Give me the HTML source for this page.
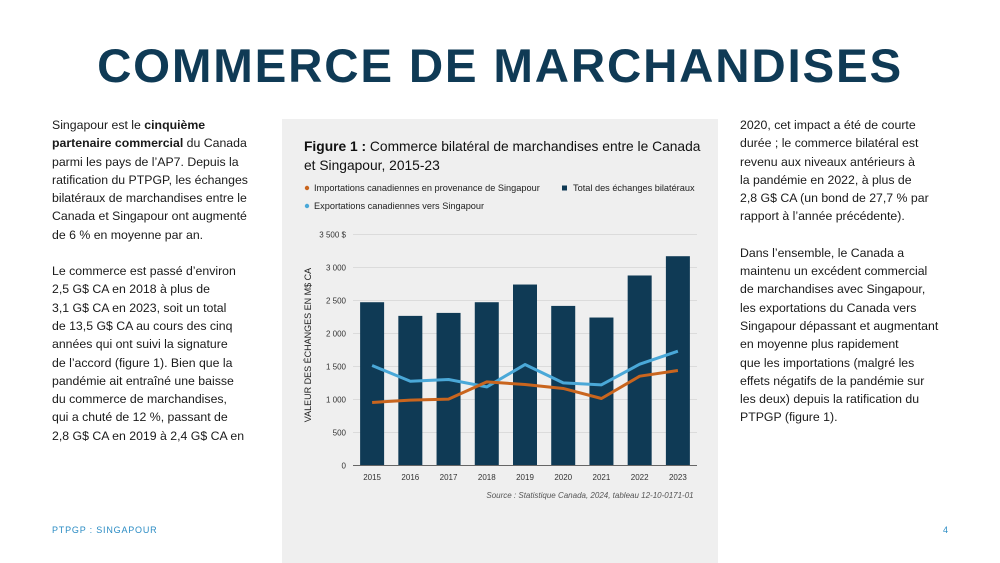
<!DOCTYPE html>
<html><head><meta charset="utf-8"><style>
body{margin:0;width:1000px;height:563px;background:#fff;font-family:"Liberation Sans",sans-serif;position:relative;overflow:hidden;color:#1a1a1a}
.t{position:absolute;left:0;width:1000px;top:39px;text-align:center;font-weight:bold;font-size:47.5px;letter-spacing:1.8px;color:#0f3a55}
.col{position:absolute;font-size:12.3px;line-height:18.3px}
.col p{margin:0 0 18px 0}
.foot{position:absolute;top:525px;font-size:9px;color:#2b8cc4;letter-spacing:0.8px}
.panel{position:absolute;left:282px;top:119px;width:436px;height:444px;background:#efefef}
</style></head><body>
<div class="t">COMMERCE DE MARCHANDISES</div>
<div class="col" style="left:52px;top:116px;width:230px">
<p>Singapour est le <b>cinquième<br>partenaire commercial</b> du Canada<br>parmi les pays de l’AP7. Depuis la<br>ratification du PTPGP, les échanges<br>bilatéraux de marchandises entre le<br>Canada et Singapour ont augmenté<br>de 6 % en moyenne par an.</p>
<p>Le commerce est passé d’environ<br>2,5 G$ CA en 2018 à plus de<br>3,1 G$ CA en 2023, soit un total<br>de 13,5 G$ CA au cours des cinq<br>années qui ont suivi la signature<br>de l’accord (figure 1). Bien que la<br>pandémie ait entraîné une baisse<br>du commerce de marchandises,<br>qui a chuté de 12 %, passant de<br>2,8 G$ CA en 2019 à 2,4 G$ CA en</p>
</div>
<div class="col" style="left:740px;top:116px;width:240px">
<p>2020, cet impact a été de courte<br>durée ; le commerce bilatéral est<br>revenu aux niveaux antérieurs à<br>la pandémie en 2022, à plus de<br>2,8 G$ CA (un bond de 27,7 % par<br>rapport à l’année précédente).</p>
<p>Dans l’ensemble, le Canada a<br>maintenu un excédent commercial<br>de marchandises avec Singapour,<br>les exportations du Canada vers<br>Singapour dépassant et augmentant<br>en moyenne plus rapidement<br>que les importations (malgré les<br>effets négatifs de la pandémie sur<br>les deux) depuis la ratification du<br>PTPGP (figure 1).</p>
</div>
<div class="foot" style="left:52px">PTPGP : SINGAPOUR</div>
<div class="foot" style="left:943px">4</div>
<div class="panel"></div>
<svg id="c" width="1000" height="563" style="position:absolute;left:0;top:0" font-family="Liberation Sans, sans-serif">
<text x="304" y="151" font-size="13.8" fill="#111"><tspan font-weight="bold">Figure 1 :</tspan> Commerce bilatéral de marchandises entre le Canada</text>
<text x="304" y="170" font-size="13.8" fill="#111">et Singapour, 2015-23</text>
<g font-size="9.2" fill="#222">
<circle cx="307" cy="188" r="2.2" fill="#c9651e"/><text x="314" y="191">Importations canadiennes en provenance de Singapour</text>
<rect x="562" y="185.5" width="5" height="5" fill="#0f3a55"/><text x="573" y="191">Total des échanges bilatéraux</text>
<circle cx="307" cy="206" r="2.2" fill="#4aa8d8"/><text x="314" y="209">Exportations canadiennes vers Singapour</text>
</g>
<text transform="translate(311,345) rotate(-90)" text-anchor="middle" font-size="9" fill="#222">VALEUR DES ÉCHANGES EN M$ CA</text>
<text x="590" y="498" font-size="8" font-style="italic" fill="#555" text-anchor="middle">Source : Statistique Canada, 2024, tableau 12-10-0171-01</text>
<g id="plot"></g>
</svg>
<script>
const years=["2015","2016","2017","2018","2019","2020","2021","2022","2023"];
const totals=[2474,2267,2312,2474,2742,2418,2242,2879,3171];
const exportsCA=[1515,1277,1303,1191,1530,1252,1222,1535,1732];
const importsCA=[955,990,1005,1267,1227,1167,1015,1353,1439];
const yTicks=[0,500,1000,1500,2000,2500,3000,3500];
const yTickLabels=["0","500","1 000","1 500","2 000","2 500","3 000","3 500 $"];
const NS="http://www.w3.org/2000/svg",g=document.getElementById('plot');
const x0=353,x1=697,y0=465.5,y1=234.5,yMax=3500;
const step=(x1-x0)/years.length;
const xs=i=>x0+step*(i+0.5), ys=v=>y0-(v/yMax)*(y0-y1);
function el(t,a){const e=document.createElementNS(NS,t);for(const k in a)e.setAttribute(k,a[k]);g.appendChild(e);return e;}
yTicks.forEach((v,i)=>{
 const l=el('line',{x1:x0,x2:x1,y1:ys(v),y2:ys(v),stroke:'#d4d4d4','stroke-width':0.8});
 
 
 const t=el('text',{x:346,y:ys(v)+3,'font-size':8,fill:'#333','text-anchor':'end'});
 t.textContent=yTickLabels[i];
 
 
});
years.forEach((y,i)=>{
 const b=el('rect',{x:xs(i)-12,y:ys(totals[i]),width:24,height:y0-ys(totals[i]),fill:'#0f3a55'});
 
 
 const t=el('text',{x:xs(i),y:480,'font-size':8,fill:'#333','text-anchor':'middle'});
 t.textContent=y;
 
 
});
const ax=el('line',{x1:x0,x2:x1,y1:y0,y2:y0,stroke:'#666','stroke-width':1});


const pe=el('polyline',{points:exportsCA.map((v,i)=>xs(i)+','+ys(v)).join(' '),fill:'none',stroke:'#4aa8d8','stroke-width':3,'stroke-linejoin':'round'});


const pi=el('polyline',{points:importsCA.map((v,i)=>xs(i)+','+ys(v)).join(' '),fill:'none',stroke:'#c9651e','stroke-width':3,'stroke-linejoin':'round'});


</script>
</body></html>
